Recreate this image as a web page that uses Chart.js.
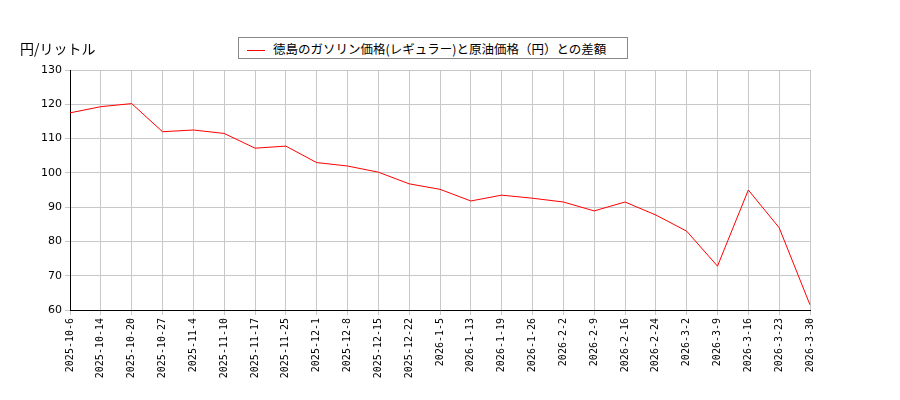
<!DOCTYPE html>
<html>
<head>
<meta charset="utf-8">
<script src="https://cdn.jsdelivr.net/npm/chart.js@4"></script>
<style>
  body { margin: 0; background: #fff; }
  #wrap { position: relative; width: 900px; height: 400px; }
  #yTitle { position: absolute; left: 20px; top: 38px; font: 14px "Noto Sans CJK JP"; color: #000; }
  #legend { position: absolute; left: 238px; top: 37px; width: 390px; height: 22px; border: 1px solid #888;
    font: 12.5px "Noto Sans CJK JP"; line-height: 22px; box-sizing: border-box; padding-left: 8px; background: #fff; }
  #legend span { display: inline-block; width: 18px; height: 0; border-top: 1.5px solid red; vertical-align: middle; margin-right: 8px; }
</style>
</head>
<body>
<div id="wrap">
  <canvas id="chart" width="900" height="400"></canvas>
  <div id="yTitle">円/リットル</div>
  <div id="legend"><span></span>徳島のガソリン価格(レギュラー)と原油価格（円）との差額</div>
</div>
<script>
// Chart data
const dates = ['2025-10-6', '2025-10-14', '2025-10-20', '2025-10-27', '2025-11-4', '2025-11-10',
  '2025-11-17', '2025-11-25', '2025-12-1', '2025-12-8', '2025-12-15', '2025-12-22', '2026-1-5',
  '2026-1-13', '2026-1-19', '2026-1-26', '2026-2-2', '2026-2-9', '2026-2-16', '2026-2-24',
  '2026-3-2', '2026-3-9', '2026-3-16', '2026-3-23', '2026-3-30'];
const priceGap = [117.5, 119.3, 120.2, 112, 112.5, 111.5, 107.2, 107.8, 103, 102, 100.2, 96.8, 95.2,
  91.8, 93.5, 92.6, 91.5, 88.9, 91.5, 87.7, 83, 72.8, 95, 84, 61.5];
const yTicks = [60, 70, 80, 90, 100, 110, 120, 130];

new Chart(document.getElementById('chart'), {
  type: 'line',
  data: {
    labels: dates,
    datasets: [{
      data: priceGap,
      borderColor: '#ff0000',
      borderWidth: 1,
      pointRadius: 0,
      tension: 0
    }]
  },
  options: {
    responsive: false,
    animation: false,
    layout: { padding: { top: 70, right: 90, left: 0, bottom: 0 } },
    plugins: { legend: { display: false }, tooltip: { enabled: false } },
    scales: {
      x: {
        offset: false,
        grid: { color: '#c8c8c8', tickLength: 5 },
        border: { color: '#000' },
        ticks: {
          color: '#000', autoSkip: false, maxRotation: 90, minRotation: 90,
          font: { family: 'DejaVu Sans Mono', size: 10 }
        },
        afterFit: (s) => { s.height = 90; }
      },
      y: {
        min: 60, max: 130,
        grid: { color: '#c8c8c8', tickLength: 5 },
        border: { color: '#000' },
        afterBuildTicks: (s) => { s.ticks = yTicks.map(v => ({ value: v })); },
        ticks: { color: '#000', font: { family: 'DejaVu Sans', size: 11 } },
        afterFit: (s) => { s.width = 70; }
      }
    }
  }
});
</script>
</body>
</html>
